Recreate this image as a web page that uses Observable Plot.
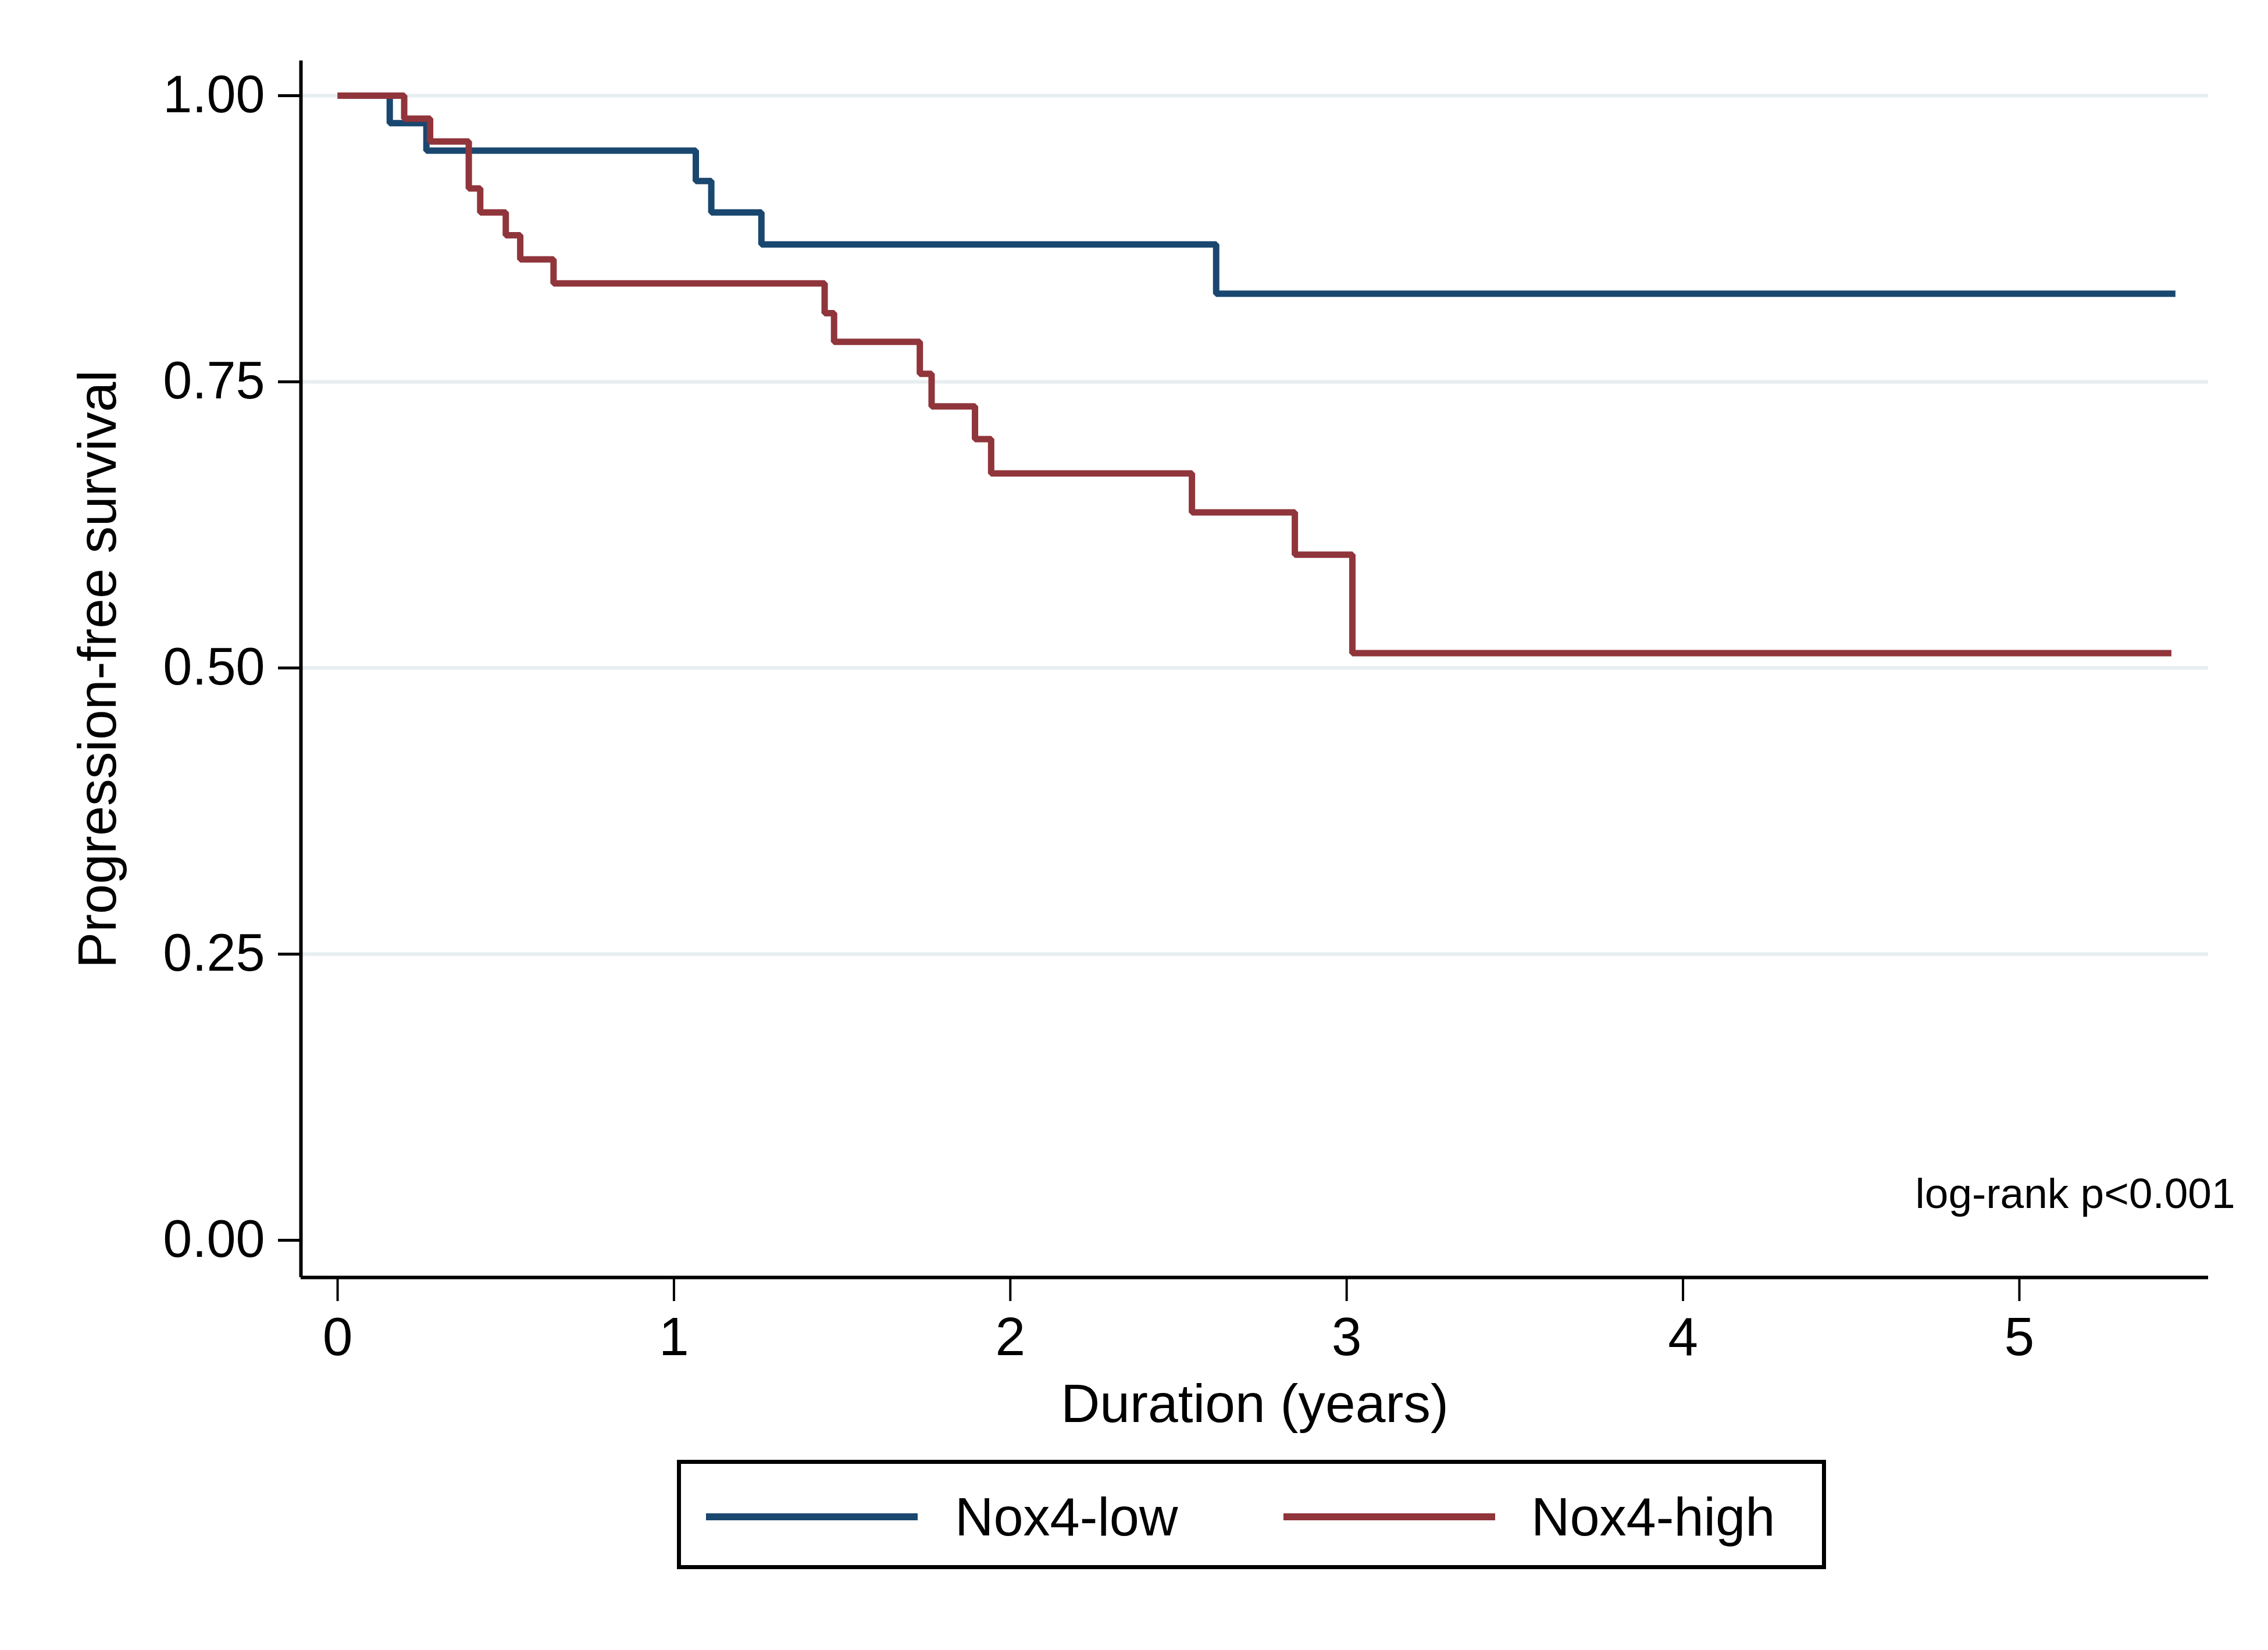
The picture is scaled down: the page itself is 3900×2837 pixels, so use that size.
<!DOCTYPE html>
<html>
<head>
<meta charset="utf-8">
<script src="https://cdn.jsdelivr.net/npm/d3@7"></script>
<script src="https://cdn.jsdelivr.net/npm/@observablehq/plot@0.6"></script>
<style>
  html, body { margin: 0; padding: 0; background: #ffffff; }
  #wrap { position: relative; width: 3900px; height: 2837px; background: #ffffff; font-family: "Liberation Sans", Arial, Helvetica, sans-serif; }
  #legend { position: absolute; left: 1164px; top: 2510px; width: 1976px; height: 188px; box-sizing: border-box; border: 7px solid #000; background: #fff; }
  .sw { position: absolute; height: 12px; }
  .lb { position: absolute; font-size: 92px; line-height: 1; color: #000; white-space: nowrap; }
</style>
</head>
<body>
<div id="wrap"><div id="chart"></div><div id="legend"></div></div>
<script>
// ---- data ----
const groups = ["Nox4-low", "Nox4-high"];
const colors = ["#1a476f", "#90353b"];

const lowTime = [0, 0.155, 0.264, 1.065, 1.111, 1.26, 2.612, 5.464];
const lowSurv = [1, 0.976, 0.952, 0.9255, 0.898, 0.870, 0.827, 0.827];

const highTime = [0, 0.198, 0.275, 0.39, 0.424, 0.50, 0.543, 0.642, 1.448, 1.476, 1.731, 1.766, 1.895, 1.943, 2.54, 2.846, 3.017, 5.452];
const highSurv = [1, 0.980, 0.960, 0.919, 0.898, 0.878, 0.857, 0.836, 0.810, 0.785, 0.757, 0.7285, 0.700, 0.670, 0.636, 0.599, 0.513, 0.513];

const xTicks = [0, 1, 2, 3, 4, 5];
const yTicks = [0, 0.25, 0.5, 0.75, 1];
const gridTicks = [0.25, 0.5, 0.75, 1];
const xDomain = [-0.109, 5.562];
const yDomain = [-0.0325, 1.0305];

const xTitle = "Duration (years)";
const yTitle = "Progression-free survival";
const note = "log-rank p<0.001";

// ---- build table ----
const rows = [];
lowTime.forEach((t, i) => rows.push({group: groups[0], t, s: lowSurv[i]}));
highTime.forEach((t, i) => rows.push({group: groups[1], t, s: highSurv[i]}));

const font = "'Liberation Sans', Arial, Helvetica, sans-serif";

const chart = Plot.plot({
  width: 3900,
  height: 2480,
  marginLeft: 517,
  marginRight: 103,
  marginTop: 104,
  marginBottom: 284,
  style: {fontFamily: font, background: "#ffffff", color: "#000"},
  x: {domain: xDomain},
  y: {domain: yDomain},
  color: {domain: groups, range: colors},
  marks: [
    Plot.gridY(gridTicks, {stroke: "#e6eef0", strokeOpacity: 1, strokeWidth: 6}),
    Plot.axisY({ticks: yTicks, tickFormat: d3.format(".2f"), tickSize: 39, tickPadding: 23, fontSize: 90, strokeWidth: 5, label: null}),
    Plot.axisX({ticks: xTicks, tickFormat: d3.format("d"), tickSize: 41, tickPadding: 26, fontSize: 93, strokeWidth: 4, label: null}),
    Plot.ruleX([xDomain[0]], {stroke: "#000", strokeWidth: 6}),
    Plot.ruleY([yDomain[0]], {stroke: "#000", strokeWidth: 6}),
    Plot.line(rows, {x: "t", y: "s", z: "group", stroke: "group", curve: "step-after",
      strokeWidth: 11, strokeLinejoin: "miter", strokeLinecap: "butt"}),
    Plot.text([xTitle], {frameAnchor: "bottom", dy: 219, fontSize: 93, lineAnchor: "middle", fill: "#000"}),
    Plot.text([yTitle], {frameAnchor: "left", textAnchor: "middle", rotate: -90, dx: -348, fontSize: 93, lineAnchor: "middle", fill: "#000"}),
    Plot.text([note], {frameAnchor: "bottom-right", textAnchor: "end", dx: 46, dy: -143, fontSize: 73, lineAnchor: "middle", fill: "#000"})
  ]
});
document.getElementById("chart").appendChild(chart);

// ---- legend ----
const legend = document.getElementById("legend");
const swLeft = [43, 1036];
const lbLeft = [471, 1462];
groups.forEach((g, i) => {
  const sw = document.createElement("div");
  sw.className = "sw";
  sw.style.left = swLeft[i] + "px";
  sw.style.top = (98 - 7 - 6) + "px";
  sw.style.width = "364px";
  sw.style.background = colors[i];
  legend.appendChild(sw);
  const lb = document.createElement("div");
  lb.className = "lb";
  lb.style.left = lbLeft[i] + "px";
  lb.style.top = (2645 - 2510 - 7 - 83) + "px";
  lb.textContent = g;
  legend.appendChild(lb);
});
</script>
</body>
</html>
